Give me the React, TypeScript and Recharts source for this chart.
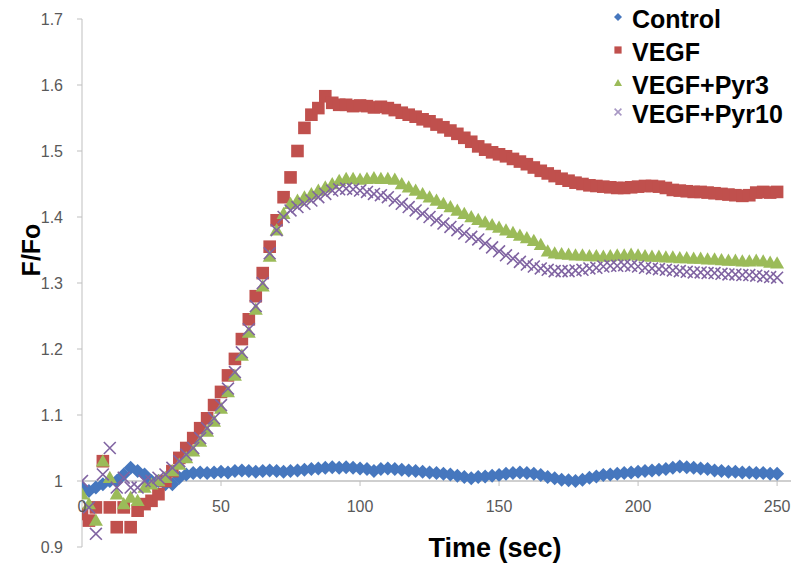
import React from "react";
import { ScatterChart, Scatter, XAxis, YAxis, ReferenceLine } from "recharts";

// time points (sec)
const TIME = [
  0, 2.5, 5, 7.5, 10, 12.5, 15, 17.5, 20, 22.5,
  25, 27.5, 30, 32.5, 35, 37.5, 40, 42.5, 45, 47.5,
  50, 52.5, 55, 57.5, 60, 62.5, 65, 67.5, 70, 72.5,
  75, 77.5, 80, 82.5, 85, 87.5, 90, 92.5, 95, 97.5,
  100, 102.5, 105, 107.5, 110, 112.5, 115, 117.5, 120, 122.5,
  125, 127.5, 130, 132.5, 135, 137.5, 140, 142.5, 145, 147.5,
  150, 152.5, 155, 157.5, 160, 162.5, 165, 167.5, 170, 172.5,
  175, 177.5, 180, 182.5, 185, 187.5, 190, 192.5, 195, 197.5,
  200, 202.5, 205, 207.5, 210, 212.5, 215, 217.5, 220, 222.5,
  225, 227.5, 230, 232.5, 235, 237.5, 240, 242.5, 245, 247.5,
  250,
];

const CONTROL = [
  0.99, 0.985, 0.99, 0.995, 1.0, 1.0, 1.01, 1.02, 1.015, 1.01,
  1.0, 1.0, 0.995, 0.995, 1.005, 1.01, 1.012, 1.013, 1.012, 1.013,
  1.014, 1.013, 1.015, 1.016, 1.015, 1.014, 1.015, 1.016, 1.015, 1.014,
  1.015, 1.016, 1.017, 1.018, 1.019, 1.02, 1.021, 1.02, 1.021, 1.02,
  1.019, 1.018, 1.015, 1.018, 1.019, 1.018, 1.017, 1.016, 1.015, 1.014,
  1.013, 1.012, 1.011, 1.01, 1.008, 1.006, 1.004, 1.006, 1.007, 1.008,
  1.009, 1.011, 1.012, 1.013, 1.012, 1.011, 1.009, 1.006, 1.004, 1.002,
  1.001, 1.0, 1.002, 1.005, 1.007, 1.009, 1.01, 1.011, 1.012, 1.013,
  1.014, 1.015, 1.016, 1.017, 1.018, 1.02, 1.022, 1.021, 1.02, 1.019,
  1.018, 1.016, 1.015, 1.014, 1.014, 1.013, 1.013, 1.012, 1.012, 1.011,
  1.011,
];

const VEGF = [
  0.95, 0.94, 0.96, 1.03, 0.96, 0.93, 0.96, 0.93, 0.955, 0.965,
  0.97, 0.98, 1.0, 1.015, 1.035, 1.05, 1.065, 1.08, 1.095, 1.115,
  1.135, 1.16, 1.185, 1.215, 1.245, 1.28, 1.315, 1.355, 1.395, 1.43,
  1.46, 1.5, 1.535, 1.555, 1.565, 1.583, 1.573, 1.57, 1.57, 1.568,
  1.569, 1.568, 1.566, 1.567, 1.565, 1.562, 1.558, 1.555, 1.552, 1.548,
  1.545, 1.54, 1.536, 1.531, 1.526, 1.52, 1.514, 1.507, 1.502, 1.498,
  1.495, 1.492, 1.488, 1.484, 1.48, 1.475, 1.47, 1.466, 1.462, 1.458,
  1.455, 1.452, 1.45, 1.448, 1.447, 1.446, 1.445, 1.444, 1.444, 1.445,
  1.446, 1.447, 1.447, 1.446, 1.444, 1.441, 1.44, 1.439, 1.438, 1.438,
  1.437, 1.436, 1.435, 1.434, 1.433, 1.432, 1.433, 1.437, 1.438, 1.437,
  1.438,
];

const VEGF_PYR3 = [
  0.98, 0.965, 0.94, 1.03, 1.005, 0.98, 0.965, 0.975, 0.97, 0.99,
  0.995, 1.0, 1.005, 1.015, 1.025, 1.035, 1.045, 1.06, 1.075, 1.09,
  1.11, 1.135, 1.16, 1.19, 1.225, 1.26, 1.295, 1.34, 1.38, 1.405,
  1.42, 1.425, 1.43, 1.435, 1.44, 1.445, 1.45, 1.455, 1.458, 1.458,
  1.457, 1.458, 1.459, 1.458, 1.458, 1.457, 1.45, 1.445, 1.44, 1.435,
  1.43, 1.425, 1.42, 1.415, 1.41, 1.405, 1.4, 1.396, 1.392, 1.388,
  1.384, 1.38, 1.376, 1.372, 1.368, 1.364, 1.358, 1.348, 1.345, 1.344,
  1.343, 1.342, 1.342, 1.341, 1.341, 1.34, 1.341, 1.342, 1.342, 1.343,
  1.342, 1.341, 1.34, 1.34, 1.339, 1.339, 1.338, 1.338, 1.337, 1.337,
  1.336, 1.336, 1.335, 1.334, 1.334, 1.333, 1.333, 1.334, 1.333, 1.331,
  1.33,
];

const VEGF_PYR10 = [
  1.0, 0.96, 0.92, 1.01, 1.05, 0.99, 1.005, 0.99, 0.99, 1.0,
  1.0, 1.005, 1.01, 1.02, 1.03, 1.04, 1.05, 1.065, 1.08, 1.095,
  1.115, 1.14, 1.165, 1.195, 1.23, 1.265, 1.3, 1.345, 1.38, 1.4,
  1.41, 1.415, 1.42, 1.425, 1.43, 1.435, 1.44, 1.442, 1.443, 1.442,
  1.44, 1.438, 1.435, 1.433, 1.43, 1.425, 1.42, 1.415, 1.41, 1.405,
  1.4, 1.395, 1.39, 1.385, 1.38, 1.375, 1.37, 1.366, 1.36, 1.354,
  1.348, 1.342, 1.337, 1.332, 1.328, 1.325, 1.322, 1.32, 1.318, 1.318,
  1.318, 1.319, 1.32, 1.322, 1.323, 1.325, 1.326, 1.326, 1.327, 1.326,
  1.325, 1.323, 1.322, 1.321, 1.32, 1.319, 1.318, 1.317, 1.316, 1.316,
  1.315, 1.315, 1.314, 1.313, 1.313, 1.312, 1.312, 1.311, 1.31, 1.309,
  1.308,
];

const X_TICKS = [0, 50, 100, 150, 200, 250];
const Y_TICKS = [0.9, 1, 1.1, 1.2, 1.3, 1.4, 1.5, 1.6, 1.7];

const W = 795;
const H = 570;
const MARGIN = { top: 19, right: 4, bottom: 0, left: 22 };
const Y_AXIS_W = 60;
const X_AXIS_H = 23;
const Y_MIN = 0.9;
const Y_MAX = 1.7;
const PLOT_TOP = MARGIN.top;
const PLOT_BOTTOM = H - MARGIN.bottom - X_AXIS_H;
// pixel row of a y value, from the same domain the YAxis uses
const yPx = (v: number) =>
  PLOT_BOTTOM - ((v - Y_MIN) / (Y_MAX - Y_MIN)) * (PLOT_BOTTOM - PLOT_TOP);

const AXIS = "#bfbfbf";
const TICK_TEXT = "#595959";
const FONT = "'Liberation Sans', Arial, sans-serif";

const SERIES = [
  { name: "Control", values: CONTROL, color: "#4677be", shape: "diamond" },
  { name: "VEGF", values: VEGF, color: "#c0504d", shape: "square" },
  { name: "VEGF+Pyr3", values: VEGF_PYR3, color: "#9bbb59", shape: "triangle" },
  { name: "VEGF+Pyr10", values: VEGF_PYR10, color: "#8064a2", shape: "x" },
];

function Marker({ cx, cy, shape, color, s }: any) {
  if (cx == null || cy == null) return null;
  const h = s / 2;
  if (shape === "diamond") {
    return <path d={`M${cx},${cy - h}L${cx + h},${cy}L${cx},${cy + h}L${cx - h},${cy}Z`} fill={color} />;
  }
  if (shape === "square") {
    const q = h * 0.9;
    return <rect x={cx - q} y={cy - q} width={q * 2} height={q * 2} fill={color} />;
  }
  if (shape === "triangle") {
    return <path d={`M${cx},${cy - h}L${cx + h},${cy + h * 0.75}L${cx - h},${cy + h * 0.75}Z`} fill={color} />;
  }
  const q = h * 0.85;
  return (
    <path
      d={`M${cx - q},${cy - q}L${cx + q},${cy + q}M${cx - q},${cy + q}L${cx + q},${cy - q}`}
      stroke={color}
      strokeWidth={1.6}
      fill="none"
    />
  );
}

function XTick({ x, payload }: any) {
  const y0 = yPx(1);
  return (
    <g>
      {payload.value !== 0 && <line x1={x} x2={x} y1={y0} y2={y0 + 5} stroke={AXIS} />}
      <text x={x} y={y0 + 31} textAnchor="middle" fill={TICK_TEXT} fontSize={16} fontFamily={FONT}>
        {payload.value}
      </text>
    </g>
  );
}

function XTitle() {
  return (
    <text x={495} y={557} textAnchor="middle" fontSize={27} fontWeight="bold" fontFamily={FONT} fill="#000">
      Time (sec)
    </text>
  );
}

function YTitle() {
  return (
    <text
      x={40}
      y={250}
      transform="rotate(-90 40 250)"
      textAnchor="middle"
      fontSize={25}
      fontWeight="bold"
      fontFamily={FONT}
      fill="#000"
    >
      F/Fo
    </text>
  );
}

const LEGEND_ROWS = [19, 52, 85, 114];

function LegendBox() {
  return (
    <svg width={195} height={135} style={{ position: "absolute", left: 600, top: 0 }}>
      {SERIES.map((s, i) => (
        <g key={s.name}>
          <Marker cx={18} cy={LEGEND_ROWS[i] - 2} shape={s.shape} color={s.shape === "x" ? "#a898c4" : s.color} s={8} />
          <text x={32} y={LEGEND_ROWS[i] + 9} fontSize={25} fontWeight="bold" fontFamily={FONT} fill="#000">
            {s.name}
          </text>
        </g>
      ))}
    </svg>
  );
}

export default function App() {
  const data = SERIES.map((s) => TIME.map((t, i) => ({ t, v: s.values[i] })));

  return (
    <div style={{ position: "relative", width: W, height: H, background: "#fff" }}>
      <style>{"body{margin:0}"}</style>
      <ScatterChart width={W} height={H} margin={MARGIN}>
        <XAxis
          type="number"
          dataKey="t"
          domain={[0, 255]}
          ticks={X_TICKS}
          height={X_AXIS_H}
          axisLine={false}
          tickLine={false}
          tick={<XTick />}
          interval={0}
          allowDataOverflow
          label={<XTitle />}
        />
        <YAxis
          type="number"
          dataKey="v"
          domain={[Y_MIN, Y_MAX]}
          ticks={Y_TICKS}
          width={Y_AXIS_W}
          interval={0}
          axisLine={{ stroke: AXIS }}
          tickLine={{ stroke: AXIS }}
          tickSize={5}
          tickMargin={14}
          tick={{ fill: TICK_TEXT, fontSize: 16, fontFamily: FONT }}
          tickFormatter={(v: number) => (v === 1 ? "1" : v.toFixed(1))}
          allowDataOverflow
          label={<YTitle />}
        />
        <ReferenceLine y={1} stroke={AXIS} strokeWidth={1.5} />
        {SERIES.map((s, i) => (
          <Scatter
            key={s.name}
            name={s.name}
            data={data[i]}
            isAnimationActive={false}
            shape={(p: any) => <Marker cx={p.cx} cy={p.cy} shape={s.shape} color={s.color} s={14} />}
          />
        ))}
      </ScatterChart>
      <LegendBox />
    </div>
  );
}
